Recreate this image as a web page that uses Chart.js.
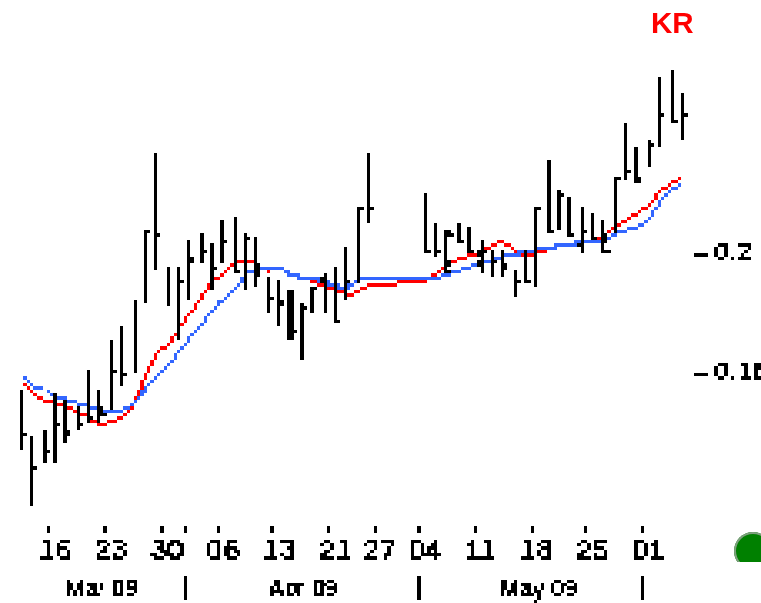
<!DOCTYPE html>
<html>
<head>
<meta charset="utf-8">
<title>KR</title>
<script src="https://cdn.jsdelivr.net/npm/chart.js@4/dist/chart.umd.min.js"></script>
<style>
  html, body { margin: 0; padding: 0; background: #fff; overflow: hidden; }
  #wrap { position: relative; width: 761px; height: 603px; }
  /* small canvas blown up so it keeps the blocky look of the original gif */
  #chart { position: absolute; left: 0; top: 0; width: 761px !important; height: 603px !important;
           image-rendering: pixelated; }
  #symbol { position: absolute; left: 651px; top: 6px; font: bold 29.5px/34px "Liberation Sans", sans-serif;
            color: #ff0000; filter: blur(0.5px); }
  #dotclip { position: absolute; left: 734px; top: 532px; width: 27px; height: 30px; overflow: hidden; }
  #dot { width: 38px; height: 38px; border-radius: 50%; background: #008000; box-shadow: inset 0 0 0 2px #7f9f7f; }
</style>
</head>
<body>
<div id="wrap">
  <canvas id="chart" width="228" height="181"></canvas>
  <div id="symbol">KR</div>
  <div id="dotclip"><div id="dot"></div></div>
</div>
<script>
const dates = [
  '03-11','03-12','03-13','03-16','03-17','03-18','03-19','03-20','03-23','03-24',
  '03-25','03-26','03-27','03-30','03-31','04-01','04-02','04-03','04-06','04-07',
  '04-08','04-09','04-10','04-13','04-14','04-15','04-16','04-17','04-21','04-22',
  '04-23','04-24','04-27','04-28','04-29','04-30','05-04','05-05','05-06','05-07',
  '05-08','05-11','05-12','05-13','05-14','05-15','05-18','05-19','05-20','05-21',
  '05-22','05-25','05-26','05-27','05-28','05-29','06-01','06-02','06-03','06-04'
];
const highs = [
  .1533,.1390,.1400,.1520,.1510,.1483,.1603,.1543,.1700,.1750,
  .1833,.2073,.2326,.1953,.1953,.2036,.2060,.2026,.2110,.2120,
  .2060,.2050,.1916,.1906,.1880,.1833,.1880,.1930,.1953,.2013,
  .2146,.2326,null,null,null,null,.2193,.2096,.2073,.2096,
  .2086,.2036,.2000,.2000,.1940,.2000,.2147,.2303,.2207,.2183,
  .2147,.2133,.2110,.2243,.2423,.2350,.2373,.2580,.2607,.2530
];
const lows = [
  .1341,.1147,.1294,.1294,.1354,.1401,.1424,.1424,.1473,.1544,
  .1594,.1821,.1941,.1811,.1701,.1834,.1954,.1871,.1954,.1931,
  .1871,.1881,.1787,.1751,.1701,.1641,.1797,.1797,.1761,.1834,
  .1894,.2087,null,null,null,null,.1991,.1977,.1923,.2027,
  .1991,.1917,.1917,.1917,.1848,.1896,.1881,.2051,.2074,.2052,
  .1991,.2038,.1991,.2061,.2231,.2218,.2278,.2351,.2426,.2374
];
const closes = [
  .1384,.1274,.1334,.1419,.1395,.1419,.1444,.1456,.1600,.1587,
  .1827,.2067,.2055,.1816,.1901,.1973,.1996,.1947,.2033,.1935,
  .2044,.1924,.1841,.1827,.1731,.1804,.1875,.1804,.1767,.1901,
  .2141,.2141,null,null,null,null,.1995,.1995,.2056,.2032,
  .1996,.1995,.1961,.1947,.1901,.1901,.2141,.2068,.2189,.2056,
  .2068,.2042,.1997,.2239,.2261,.2237,.2357,.2452,.2430,.2452
];
const fastAvg = [
  .1563,.1526,.1503,.1490,.1479,.1466,.1444,.1419,.1430,.1442,
  .1490,.1575,.1659,.1683,.1736,.1792,.1840,.1901,.1923,.1961,
  .1972,.1953,.1935,.1945,.1924,.1912,.1900,.1886,.1875,.1852,
  .1864,.1886,.1886,.1886,.1900,.1900,.1900,.1923,.1959,.1972,
  .1983,.1995,.2020,.2031,.2007,.1983,.1996,.2007,.2020,.2020,
  .2031,.2031,.2042,.2081,.2103,.2128,.2152,.2200,.2226,.2249
];
const slowAvg = [
  .1586,.1550,.1539,.1514,.1503,.1490,.1479,.1466,.1466,.1466,
  .1492,.1536,.1586,.1612,.1661,.1709,.1747,.1803,.1842,.1870,
  .1923,.1936,.1947,.1947,.1924,.1912,.1912,.1900,.1886,.1875,
  .1900,.1912,.1912,.1912,.1912,.1912,.1912,.1912,.1923,.1935,
  .1947,.1961,.1972,.1983,.1990,.1996,.2007,.2007,.2020,.2020,
  .2031,.2031,.2031,.2056,.2067,.2081,.2103,.2163,.2202,.2223
];
const weekTickDates = ['03-16','03-23','03-30','04-06','04-13','04-21','04-27','05-04','05-11','05-18','05-25','06-01'];
const weekTickLabels = ['16','23','30','06','13','21','27','04','11','18','25','01'];
const monthStarts = ['04-01','05-04','06-01'];
const monthLabelDates = ['03-20','04-15','05-18'];
const monthLabels = ['Mar 09','Apr 09','May 09'];
const priceTicks = [0.16, 0.2];

const isWeekTick = d => weekTickDates.includes(d) || monthStarts.includes(d);

// GIF look: no partial alpha, only the palette colours
const palette = [[0, 0, 0], [255, 0, 0], [51, 102, 255]];
function hardenPixels(chart, cut) {
  const ctx = chart.ctx, w = chart.canvas.width, h = chart.canvas.height;
  const img = ctx.getImageData(0, 0, w, h), px = img.data;
  for (let i = 0; i < px.length; i += 4) {
    if (px[i + 3] < cut) { px[i + 3] = 0; continue; }
    let best = palette[0], bestDist = Infinity;
    for (const c of palette) {
      const d = (px[i] - c[0]) ** 2 + (px[i + 1] - c[1]) ** 2 + (px[i + 2] - c[2]) ** 2;
      if (d < bestDist) { bestDist = d; best = c; }
    }
    px[i] = best[0]; px[i + 1] = best[1]; px[i + 2] = best[2]; px[i + 3] = 255;
  }
  ctx.putImageData(img, 0, 0);
}
const hardEdges = {
  id: 'hardEdges',
  beforeDatasetsDraw: chart => hardenPixels(chart, 90),   // axis text, kept a bit heavier
  afterDatasetsDraw: chart => hardenPixels(chart, 128)
};

new Chart(document.getElementById('chart'), {
  type: 'bar',
  plugins: [hardEdges],
  data: {
    labels: dates,
    datasets: [
      { type: 'line', data: closes, order: 0, clip: false, showLine: false,
        pointStyle: 'dash', pointRadius: 1.7, pointBorderWidth: 1, pointBorderColor: '#000', pointHoverRadius: 1.7 },
      { type: 'bar', data: highs.map((h, i) => h == null ? null : [lows[i], h]), order: 1, clip: false,
        backgroundColor: '#000', barThickness: 1, inflateAmount: 0 },
      { type: 'line', data: slowAvg, order: 2, clip: false, borderColor: '#3366ff', borderWidth: 1, pointRadius: 0, tension: 0 },
      { type: 'line', data: fastAvg, order: 3, clip: false, borderColor: '#ff0000', borderWidth: 1, pointRadius: 0, tension: 0 }
    ]
  },
  options: {
    responsive: false,
    animation: false,
    devicePixelRatio: 1,
    layout: { autoPadding: false, padding: { left: 6.5, right: 0, top: 0, bottom: 0 } },
    plugins: { legend: { display: false }, tooltip: { enabled: false }, title: { display: false } },
    scales: {
      x: {
        offset: false,
        afterFit: s => { s.height = 15; s.paddingLeft = 0; s.paddingRight = 0; },
        border: { display: false },
        grid: {
          drawOnChartArea: false, tickLength: 2, tickWidth: 1,
          tickColor: c => isWeekTick(dates[c.index]) ? '#000' : 'rgba(0,0,0,0)'
        },
        ticks: {
          autoSkip: false, maxRotation: 0, padding: 0.5, color: '#000',
          font: { family: '"Liberation Sans Narrow","Liberation Sans",sans-serif', size: 9 },
          callback: (v, i) => {
            const k = weekTickDates.indexOf(dates[i]);
            return k < 0 ? '' : weekTickLabels[k];
          }
        }
      },
      x2: {
        position: 'bottom',
        weight: 1,
        offset: false,
        afterFit: s => { s.height = 8; s.paddingLeft = 0; s.paddingRight = 0; },
        border: { display: false },
        grid: {
          drawOnChartArea: false, tickLength: 7, tickWidth: 1,
          tickColor: c => monthStarts.includes(dates[c.index]) ? '#000' : 'rgba(0,0,0,0)'
        },
        ticks: {
          autoSkip: false, maxRotation: 0, padding: -7, labelOffset: 0.5, color: '#000',
          font: { family: '"Liberation Sans",sans-serif', size: 7 },
          callback: (v, i) => {
            const k = monthLabelDates.indexOf(dates[i]);
            return k < 0 ? '' : monthLabels[k];
          }
        }
      },
      y: {
        position: 'right',
        min: 0.1082,
        max: 0.2837,
        afterFit: s => { s.width = 23.6; s.paddingTop = 0; s.paddingBottom = 0; },
        afterBuildTicks: s => { s.ticks = priceTicks.map(value => ({ value })); },
        border: { display: false },
        grid: { display: false, drawTicks: false },
        ticks: {
          padding: 3, color: '#000',
          font: { family: '"Liberation Sans",sans-serif', size: 8 },
          callback: v => '– ' + v
        }
      }
    }
  }
});
</script>
</body>
</html>
